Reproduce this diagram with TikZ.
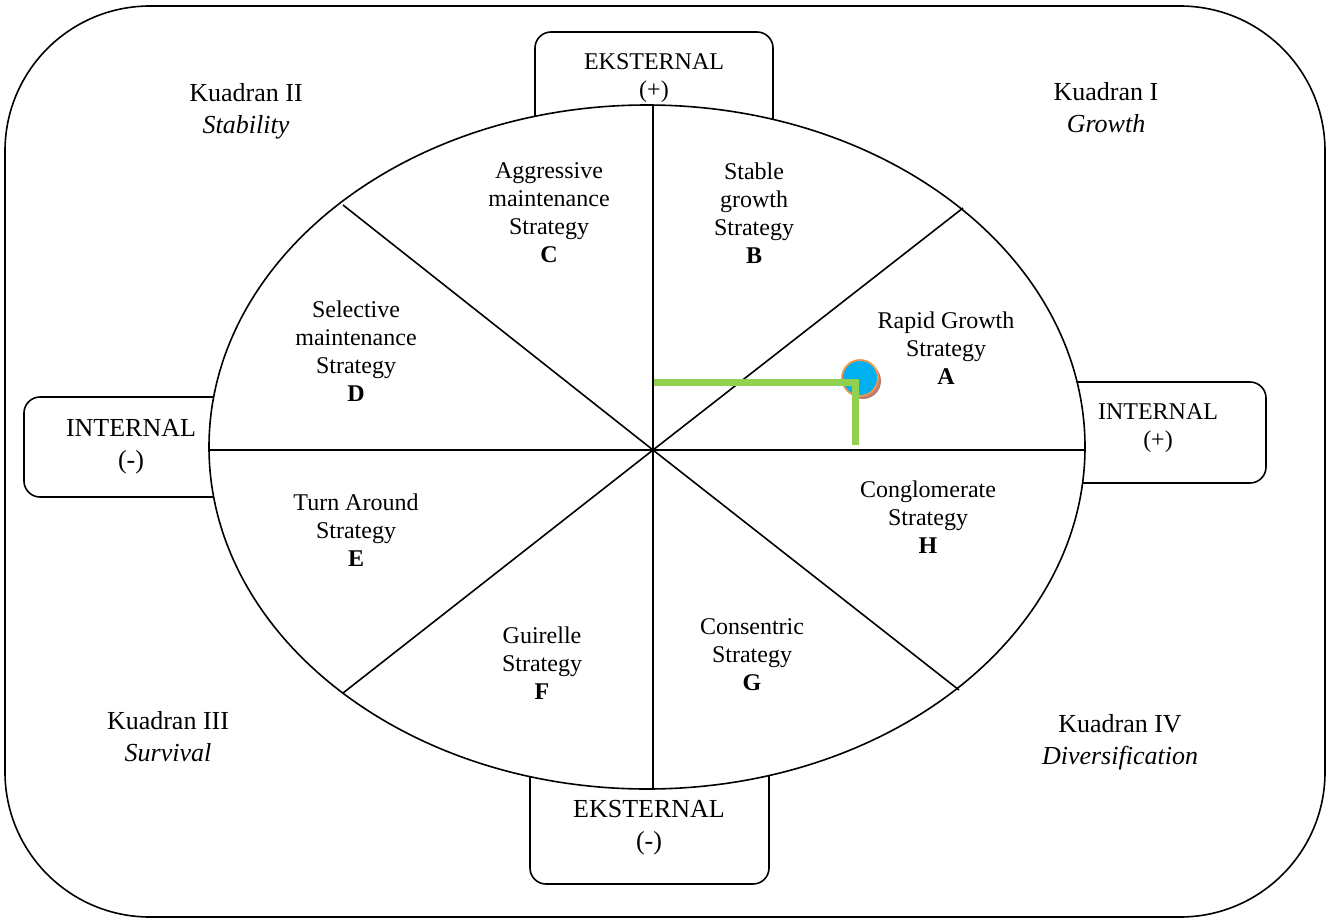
\documentclass[tikz,border=0pt]{standalone}
\usepackage{fontspec}
\setmainfont{Liberation Serif}
\definecolor{markgreen}{HTML}{92D050}
\definecolor{markblue}{HTML}{00B0F0}
\definecolor{markring}{HTML}{F79646}
\definecolor{markshade}{RGB}{185,125,115}
\begin{document}
\begin{tikzpicture}[x=1pt,y=-1pt,
  frame/.style={draw=black,line width=1.6pt},
  edge/.style={draw=black,line width=1.6pt},
  sidebox/.style={draw=black,line width=1.6pt,rounded corners=16pt,fill=white},
  lbl/.style={align=center,inner sep=0pt,font=\fontsize{24}{28}\selectfont},
  big/.style={align=center,inner sep=0pt,font=\fontsize{26}{32}\selectfont},
]
\useasboundingbox (0,0) rectangle (1330,921);
% outer frame
\draw[frame,rounded corners=145pt] (5,6) rectangle (1325,917);

% axis boxes (partly hidden behind the ellipse)
\draw[sidebox] (535,32) rectangle (773,140);
\draw[sidebox] (530,760) rectangle (769,884);
\draw[sidebox] (1040,382) rectangle (1266,483);
\draw[sidebox] (24,397) rectangle (250,497);

% ellipse and its eight sectors
\draw[edge,fill=white] (647,447) ellipse [x radius=438, y radius=342];
\coordinate (o) at (653,450);
\coordinate (p0) at (1085,450);
\coordinate (p45) at (963,208);
\coordinate (p90) at (653,105);
\coordinate (p135) at (343,205);
\coordinate (p180) at (209,450);
\coordinate (p225) at (343,693);
\coordinate (p270) at (653,789);
\coordinate (p315) at (959,690);
\foreach \a in {0,45,...,315}
  \draw[edge] (o) -- (p\a);

% axis labels
\node[lbl] (ekplus) at (654,78) {EKSTERNAL\\(+)};
\node[big] (ekmin) at (649,828) {EKSTERNAL\\(-)};
\node[lbl] (inplus) at (1158,428) {INTERNAL\\(+)};
\node[big] (inmin) at (131,447) {INTERNAL\\(-)};

% quadrant labels
\node[big] (q2) at (246,111) {Kuadran II\\\textit{Stability}};
\node[big] (q1) at (1106,108) {Kuadran I\\\textit{Growth}};
\node[big] (q3) at (168,737) {Kuadran III\\\textit{Survival}};
\node[big] (q4) at (1120,742) {Kuadran IV\\\textit{Diversification}};

% strategy labels
\node[lbl] (sc) at (549,213) {Aggressive\\maintenance\\Strategy\\\textbf{C}};
\node[lbl] (sb) at (754,213) {Stable\\growth\\Strategy\\\textbf{B}};
\node[lbl] (sd) at (356,351) {Selective\\maintenance\\Strategy\\\textbf{D}};
\node[lbl] (sa) at (946,348) {Rapid Growth\\Strategy\\\textbf{A}};
\node[lbl] (sh) at (928,517) {Conglomerate\\Strategy\\\textbf{H}};
\node[lbl] (se) at (356,530) {Turn Around\\Strategy\\\textbf{E}};
\node[lbl] (sf) at (542,663) {Guirelle\\Strategy\\\textbf{F}};
\node[lbl] (sg) at (752,655) {Consentric\\Strategy\\\textbf{G}};

% position marker
\fill[markshade] (863,381) circle (18pt);
\node[circle,minimum size=36pt,inner sep=0pt,fill=markblue,draw=markring,line width=1.8pt] (pos) at (860,378) {};
\coordinate (g1) at (654,382);
\coordinate (g2) at (855,382);
\coordinate (g3) at (855,445);
\draw[markgreen,line width=7pt] (g1) -- (g2) -- (g3);
\end{tikzpicture}
\end{document}
